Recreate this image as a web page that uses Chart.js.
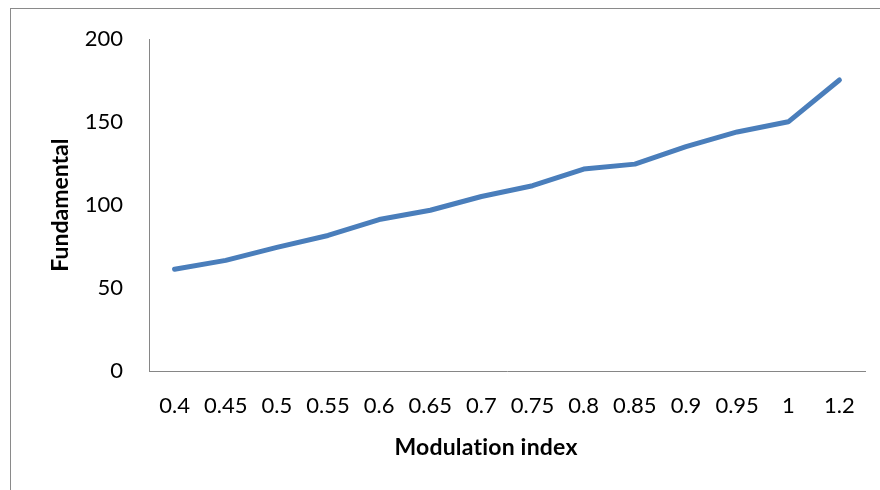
<!DOCTYPE html>
<html>
<head>
<meta charset="utf-8">
<script src="https://cdn.jsdelivr.net/npm/chart.js@4/dist/chart.umd.min.js"></script>
<style>
  html, body { margin: 0; padding: 0; background: #fff; }
  #wrap { position: relative; width: 880px; height: 490px; overflow: hidden; }
  #frame { position: absolute; left: 10px; top: 8px; width: 900px; height: 520px;
           border-left: 1px solid #8a8a8a; border-top: 1px solid #8a8a8a; box-sizing: border-box; }
  canvas { position: absolute; left: 0; top: 0; }
</style>
</head>
<body>
<div id="wrap">
  <div id="frame"></div>
  <canvas id="chart" width="880" height="490"></canvas>
</div>
<script>
// Modulation index categories and fundamental amplitude
const modulationIndex = ['0.4', '0.45', '0.5', '0.55', '0.6', '0.65', '0.7', '0.75', '0.8', '0.85', '0.9', '0.95', '1', '1.2'];
const fundamental = [61.3, 66.7, 74.5, 81.7, 91.3, 96.9, 105.2, 111.7, 121.7, 124.7, 135.3, 144.1, 150.2, 175.4];
const yTicks = [0, 50, 100, 150, 200];
const xTitle = 'Modulation index';

const axisGray = '#868686';
const fontFamily = 'Lato, "Open Sans", sans-serif';
const labelFont = { family: fontFamily, size: 22 };
const titleFont = { family: fontFamily, size: 23, weight: 'bold' };

// The horizontal axis title sits a little left of the plot centre
const xTitlePlugin = {
  id: 'xTitle',
  afterDraw(chart) {
    const { ctx, chartArea } = chart;
    ctx.save();
    ctx.font = `bold ${titleFont.size}px ${fontFamily}`;
    if ('letterSpacing' in ctx) ctx.letterSpacing = '0.2px'; // keeps "ti" as separate glyphs
    ctx.fillStyle = '#000';
    ctx.textAlign = 'center';
    ctx.textBaseline = 'middle';
    ctx.fillText(xTitle, (chartArea.left + chartArea.right) / 2 - 21, chartArea.bottom + 77);
    ctx.restore();
  }
};

new Chart(document.getElementById('chart'), {
  type: 'line',
  data: {
    labels: modulationIndex,
    datasets: [{
      label: 'Fundamental',
      data: fundamental,
      borderColor: '#4a7ebb',
      backgroundColor: '#4a7ebb',
      borderWidth: 5,
      pointRadius: 0,
      tension: 0,
      borderCapStyle: 'round',
      borderJoinStyle: 'round'
    }]
  },
  plugins: [xTitlePlugin],
  options: {
    responsive: false,
    animation: false,
    layout: { padding: { left: 0, right: 15, top: 38, bottom: 0 } },
    plugins: { legend: { display: false }, tooltip: { enabled: false } },
    scales: {
      x: {
        offset: true,
        grid: { display: false, drawTicks: false, offset: true },
        border: { display: true, color: axisGray, width: 1 },
        ticks: { color: '#000', font: labelFont, padding: 22, maxRotation: 0, autoSkip: false },
        title: { display: false },
        afterFit: (s) => { s.height = 119; }
      },
      y: {
        min: 0, max: 200,
        afterBuildTicks: (s) => { s.ticks = yTicks.map(v => ({ value: v })); },
        grid: { display: false, drawTicks: false },
        border: { display: true, color: axisGray, width: 1 },
        ticks: { color: '#000', font: labelFont, padding: 26 },
        title: { display: true, text: 'Fundamental', color: '#000', font: titleFont, padding: { top: 47, bottom: 0 } },
        afterFit: (s) => { s.width = 149; }
      }
    }
  }
});
</script>
</body>
</html>
